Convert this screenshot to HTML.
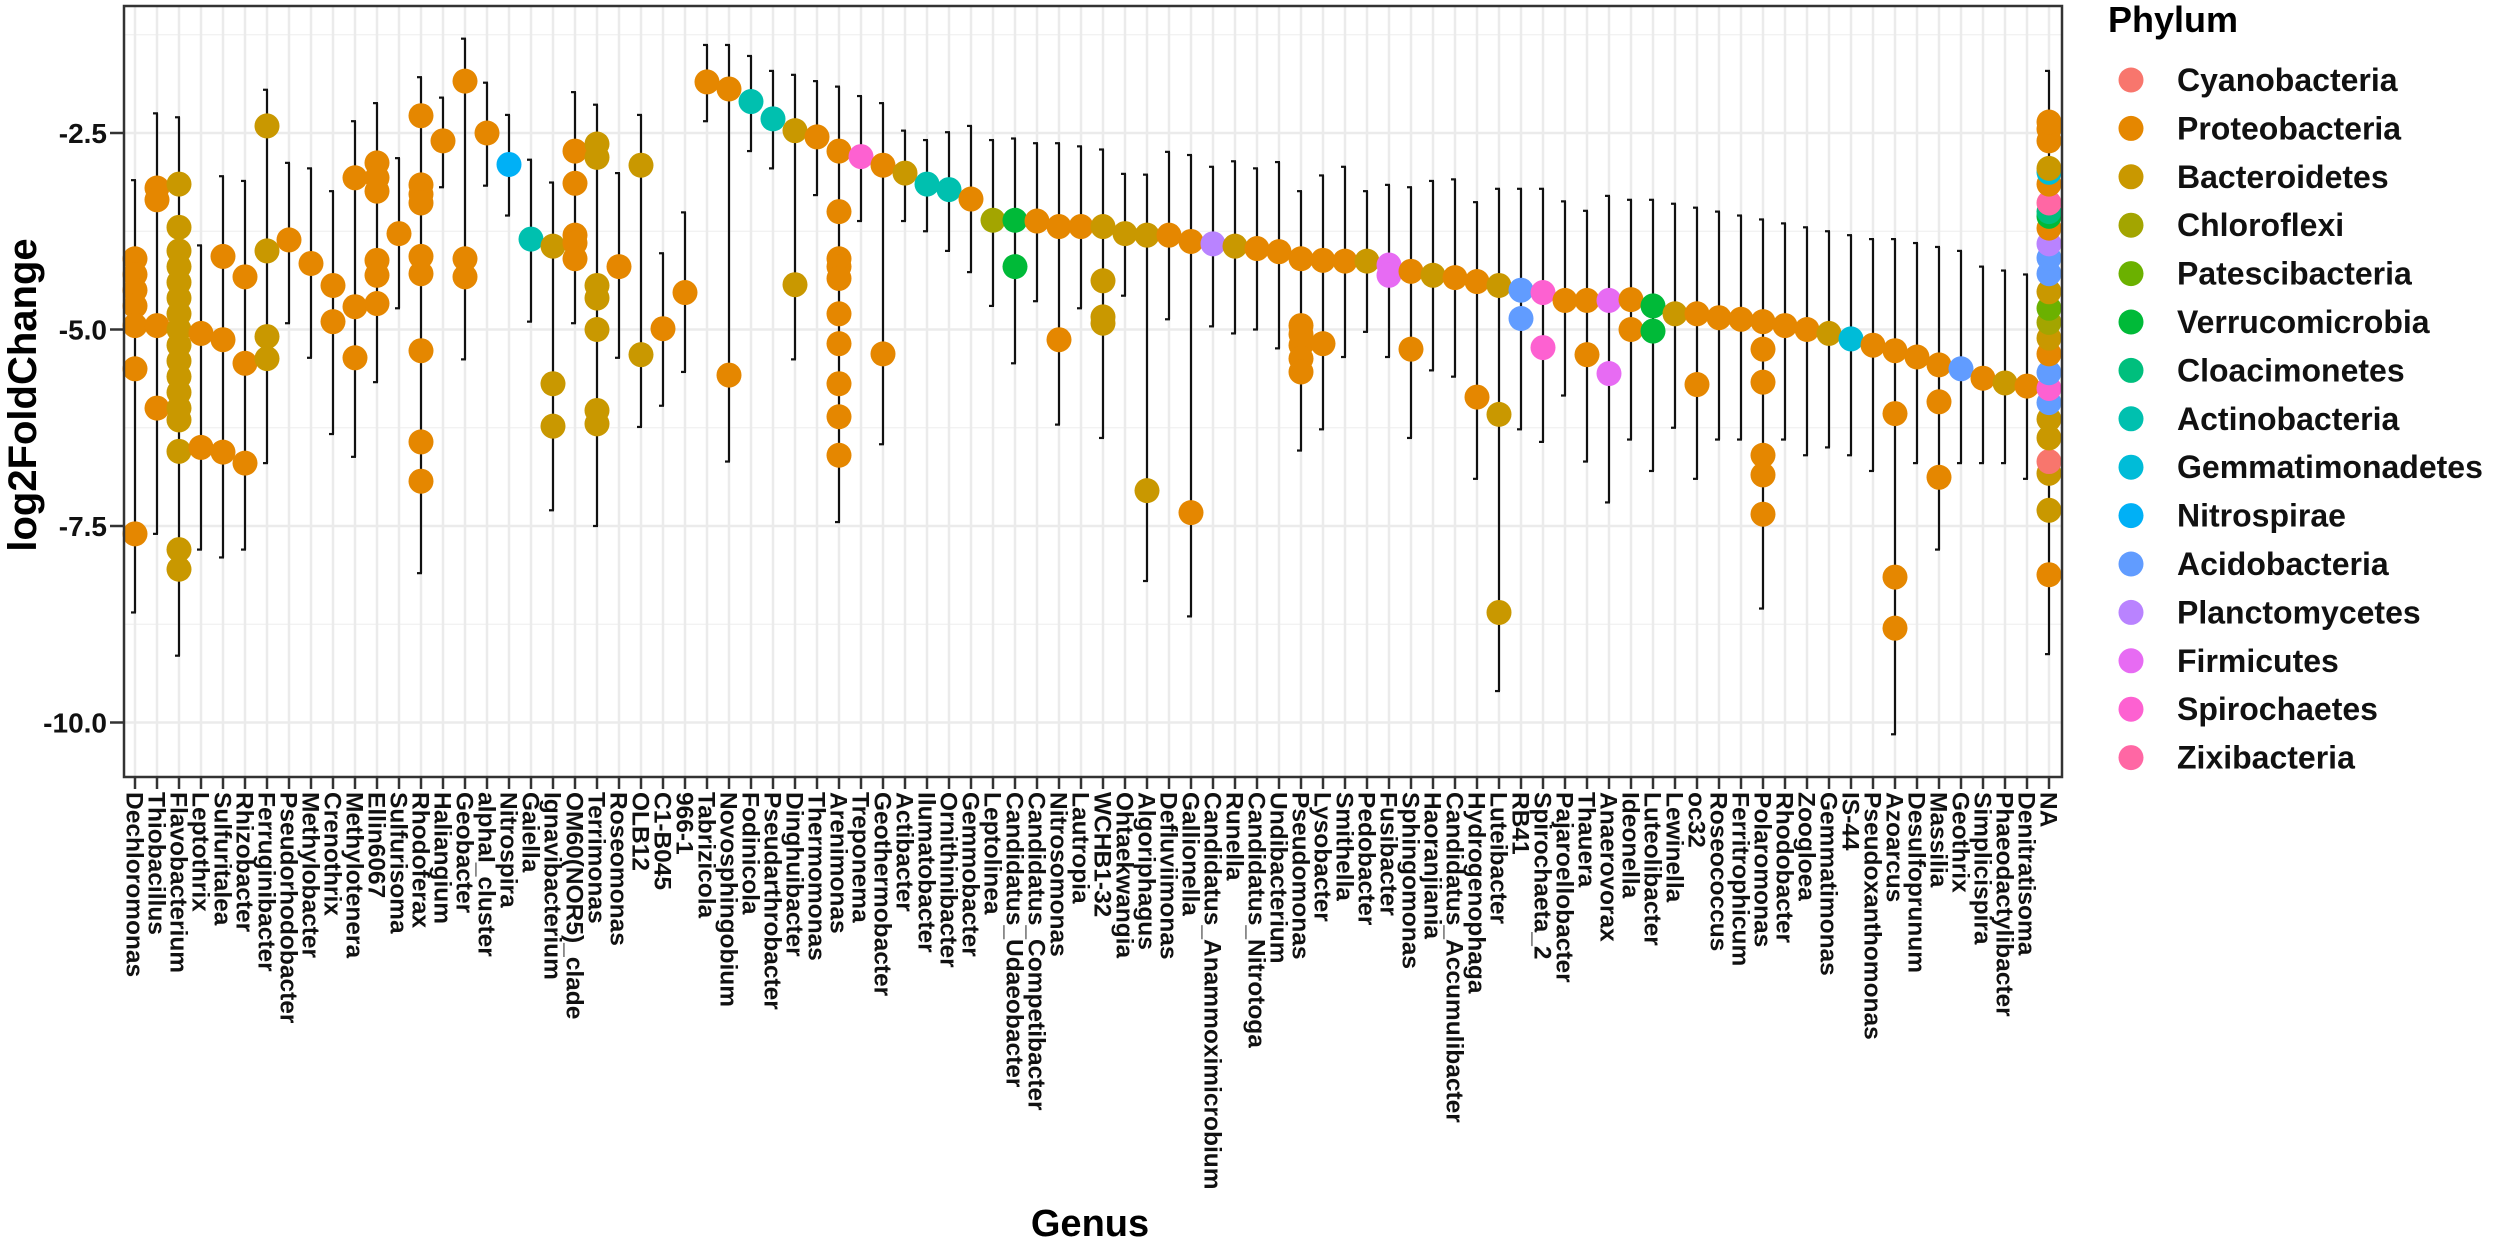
<!DOCTYPE html>
<html><head><meta charset="utf-8"><style>
html,body{margin:0;padding:0;background:#fff;}
svg{display:block;font-family:"Liberation Sans",Arial,sans-serif;}
</style></head><body>
<svg id="chart" width="2500" height="1242" viewBox="0 0 2500 1242" xmlns="http://www.w3.org/2000/svg">
<rect x="0" y="0" width="2500" height="1242" fill="#ffffff"/>
<g id="grid"></g>
<g id="errs"></g>
<g id="pts"></g>
<rect x="124" y="6" width="1938" height="771" fill="none" stroke="#333" stroke-width="2.5"/>
<g id="yaxis"></g>
<g id="xaxis"></g>
<text transform="translate(36,395) rotate(-90)" text-anchor="middle" font-size="40" font-weight="bold">log2FoldChange</text>
<text x="1090" y="1236" text-anchor="middle" font-size="38" font-weight="bold">Genus</text>
<g id="legend">
<text x="2108" y="32" font-size="36" font-weight="bold">Phylum</text>
</g>
</svg>
<script>
const phyla = ["Cyanobacteria","Proteobacteria","Bacteroidetes","Chloroflexi","Patescibacteria","Verrucomicrobia","Cloacimonetes","Actinobacteria","Gemmatimonadetes","Nitrospirae","Acidobacteria","Planctomycetes","Firmicutes","Spirochaetes","Zixibacteria"];
const phylumColors = ["#F8766D","#E58700","#C99800","#A3A500","#6BB100","#00BA38","#00BF7D","#00C0AF","#00BCD8","#00B0F6","#619CFF","#B983FF","#E76BF3","#FD61D1","#FF67A4"];
const genera = ["Dechloromonas","Thiobacillus","Flavobacterium","Leptothrix","Sulfuritalea","Rhizobacter","Ferruginibacter","Pseudorhodobacter","Methylobacter","Crenothrix","Methylotenera","Ellin6067","Sulfurisoma","Rhodoferax","Haliangium","Geobacter","alphaI_cluster","Nitrospira","Gaiella","Ignavibacterium","OM60(NOR5)_clade","Terrimonas","Roseomonas","OLB12","C1-B045","966-1","Tabrizicola","Novosphingobium","Fodinicola","Pseudarthrobacter","Dinghuibacter","Thermomonas","Arenimonas","Treponema","Geothermobacter","Actibacter","Ilumatobacter","Ornithinibacter","Gemmobacter","Leptolinea","Candidatus_Udaeobacter","Candidatus_Competibacter","Nitrosomonas","Lautropia","WCHB1-32","Ohtaekwangia","Algoriphagus","Defluviimonas","Gallionella","Candidatus_Anammoximicrobium","Runella","Candidatus_Nitrotoga","Undibacterium","Pseudomonas","Lysobacter","Smithella","Pedobacter","Fusibacter","Sphingomonas","Haoranjiania","Candidatus_Accumulibacter","Hydrogenophaga","Luteibacter","RB41","Spirochaeta_2","Pajaroellobacter","Thauera","Anaerovorax","Ideonella","Luteolibacter","Lewinella","oc32","Roseococcus","Ferritrophicum","Polaromonas","Rhodobacter","Zoogloea","Gemmatimonas","IS-44","Pseudoxanthomonas","Azoarcus","Desulfoprunum","Massilia","Geothrix","Simplicispira","Phaeodactylibacter","Denitratisoma","NA"];
const genusPhylum = [1,1,2,1,1,1,2,1,1,1,1,1,1,1,1,1,1,9,7,2,1,2,1,2,1,1,1,1,7,7,2,1,1,13,1,2,7,7,1,3,5,1,1,1,2,2,2,1,1,11,2,1,1,1,1,1,2,12,1,2,1,1,2,10,13,1,1,12,1,5,2,1,1,1,1,1,1,2,8,1,1,1,1,10,1,2,1,1];
const genusValues = [
[-4.1,-4.3,-4.5,-4.7,-4.95,-5.5,-7.6],[-3.2,-3.35,-4.95,-6.0],
[-3.15,-3.7,-4.0,-4.2,-4.4,-4.6,-4.8,-5.0,-5.2,-5.4,-5.6,-5.8,-6.0,-6.15,-6.55,-7.8,-8.05],
[-5.05,-6.5],[-4.07,-5.13,-6.56],[-4.33,-5.43,-6.7],[-2.41,-4.0,-5.09,-5.37],[-3.86],[-4.16],[-4.44,-4.9],
[-3.07,-4.71,-5.36],[-2.88,-3.07,-3.24,-4.12,-4.31,-4.67],[-3.78],[-2.28,-3.16,-3.28,-3.39,-4.07,-4.29,-5.27,-6.43,-6.93],
[-2.6],[-1.84,-4.1,-4.33],[-2.5],[-2.9],[-3.85],[-3.94,-5.69,-6.23],[-2.73,-3.14,-3.8,-3.9,-4.1],
[-2.64,-2.81,-4.44,-4.6,-5.0,-6.03,-6.2],[-4.2],[-2.91,-5.32],[-4.99],[-4.53],[-1.85],[-1.94,-5.58],[-2.1],[-2.32],
[-2.47,-4.43],[-2.55],[-2.73,-3.5,-4.1,-4.2,-4.35,-4.8,-5.18,-5.69,-6.11,-6.6],[-2.8],[-2.91,-5.31],[-3.01],[-3.15],[-3.22],[-3.34],[-3.61],
[-3.61,-4.2],[-3.62],[-3.69,-5.13],[-3.69],[-3.69,-4.38,-4.84,-4.92],[-3.78],[-3.8,-7.05],[-3.8],[-3.88,-7.33],[-3.91],
[-3.94],[-3.97],[-4.01],[-4.1,-4.95,-5.06,-5.2,-5.37,-5.54],[-4.12,-5.18],[-4.13],[-4.13],[-4.18,-4.31],[-4.26,-5.25],[-4.31],
[-4.34],[-4.39,-5.86],[-4.44,-6.08,-8.6],[-4.5,-4.86],[-4.53,-5.23],[-4.63],[-4.63,-5.32],[-4.63,-5.56],[-4.62,-5.0],[-4.7,-5.02],
[-4.8],[-4.8,-5.7],[-4.85],[-4.87],[-4.9,-5.25,-5.67,-6.6,-6.85,-7.35],[-4.95],[-5.0],[-5.05],[-5.12],[-5.2],
[-5.27,-6.07,-8.15,-8.8],[-5.35],[-5.45,-5.92,-6.88],[-5.5],[-5.62],[-5.68],[-5.72],[]];
const naValues = [-8.12,-7.3,-6.83,-6.68,-6.38,-6.14,-5.93,-5.75,-5.55,-5.31,-5.11,-4.91,-4.73,-4.52,-4.29,-4.09,-3.91,-3.71,-3.56,-3.5,-3.39,-3.15,-3.0,-2.95,-2.6,-2.45,-2.36];
const naPhyla = [1,2,2,0,2,2,10,13,10,1,2,3,4,2,10,10,11,1,5,6,14,1,8,2,1,1,1];
const errTop = [-3.1,-2.25,-2.3,-3.93,-3.05,-3.11,-1.95,-2.88,-2.95,-3.24,-2.35,-2.12,-2.82,-1.79,-2.05,-1.3,-1.86,-2.27,-2.84,-3.13,-1.98,-2.14,-3.01,-2.27,-4.03,-3.51,-1.38,-1.38,-1.52,-1.71,-1.76,-1.84,-1.91,-2.03,-2.12,-2.47,-2.59,-2.49,-2.41,-2.59,-2.57,-2.63,-2.63,-2.67,-2.71,-3.02,-3.03,-2.74,-2.78,-2.93,-2.86,-2.95,-2.87,-3.24,-3.04,-2.93,-3.24,-3.16,-3.19,-3.11,-3.09,-3.38,-3.21,-3.21,-3.21,-3.37,-3.49,-3.3,-3.35,-3.35,-3.4,-3.45,-3.5,-3.55,-3.6,-3.65,-3.7,-3.75,-3.8,-3.85,-3.85,-3.9,-3.95,-4.0,-4.2,-4.25,-4.3,-1.71];
const errBottom = [-8.6,-7.6,-9.15,-7.8,-7.9,-7.8,-6.7,-4.92,-5.36,-6.33,-6.62,-5.67,-4.73,-8.1,-3.19,-5.38,-3.17,-3.55,-4.9,-7.3,-4.92,-7.5,-5.36,-6.24,-5.97,-5.54,-2.35,-6.68,-2.73,-2.95,-5.38,-3.29,-7.45,-3.62,-6.46,-3.62,-3.75,-4.0,-4.27,-4.7,-5.43,-4.64,-6.21,-4.73,-6.38,-4.57,-8.2,-4.87,-8.65,-4.96,-5.05,-5.0,-5.24,-6.54,-6.27,-5.35,-5.03,-5.35,-6.38,-5.52,-5.6,-6.9,-9.6,-6.27,-6.43,-5.84,-6.68,-7.2,-6.4,-6.8,-6.25,-6.9,-6.4,-6.4,-8.55,-6.4,-6.6,-6.5,-6.6,-6.8,-10.15,-6.7,-7.8,-6.7,-6.7,-6.7,-6.9,-9.13];
const yTicks = [-2.5,-5.0,-7.5,-10.0];
const yTickLabels = ["-2.5","-5.0","-7.5","-10.0"];
const yMinor = [-1.25,-3.75,-6.25,-8.75];

const NS = "http://www.w3.org/2000/svg";
const PL = 124, PR = 2062, PT = 6, PB = 777;
function xPos(i){ return 135 + i * (2049 - 135) / (genera.length - 1); }
function yPos(v){ return 133 + (-2.5 - v) * 78.6; }
function mk(tag, attrs, parent){ const e = document.createElementNS(NS, tag); for (const k in attrs) e.setAttribute(k, attrs[k]); parent.appendChild(e); return e; }

const grid = document.getElementById('grid');
yMinor.forEach(v => {
  const l = mk('line', {x1:PL, x2:PR, y1:yPos(v), y2:yPos(v), stroke:'#f0f0f0', 'stroke-width':1.3}, grid);
  
  
});
yTicks.forEach(v => {
  const l = mk('line', {x1:PL, x2:PR, y1:yPos(v), y2:yPos(v), stroke:'#ebebeb', 'stroke-width':2.5}, grid);
  
  
});
genera.forEach((g, i) => {
  const l = mk('line', {x1:xPos(i), x2:xPos(i), y1:PT, y2:PB, stroke:'#ebebeb', 'stroke-width':2.5}, grid);
  
  
});

const errs = document.getElementById('errs');
genera.forEach((g, i) => {
  const x = xPos(i), y1 = yPos(errTop[i]), y2 = yPos(errBottom[i]);
  const eg = mk('g', {stroke:'#111', 'stroke-width':2.2, fill:'none'}, errs);
  
  
  mk('line', {x1:x, x2:x, y1:y1, y2:y2}, eg);
  mk('line', {x1:x-4, x2:x+1, y1:y1, y2:y1}, eg);
  mk('line', {x1:x-4, x2:x+1, y1:y2, y2:y2}, eg);
});

const pts = document.getElementById('pts');
function dot(i, v, p){
  const c = mk('circle', {cx:xPos(i), cy:yPos(v), r:12.5, fill:phylumColors[p]}, pts);
  
  
}
genusValues.forEach((vals, i) => { vals.forEach(v => dot(i, v, genusPhylum[i])); });
naValues.forEach((v, k) => dot(genera.length - 1, v, naPhyla[k]));

const ya = document.getElementById('yaxis');
yTicks.forEach((v, k) => {
  const t = mk('line', {x1:PL-14, x2:PL, y1:yPos(v), y2:yPos(v), stroke:'#333', 'stroke-width':2.5}, ya);
  
  
  const tx = mk('text', {x:107, y:yPos(v)+10, 'text-anchor':'end', 'font-size':28, 'font-weight':'bold', fill:'#111'}, ya);
  tx.textContent = yTickLabels[k];
  
  
});

const xa = document.getElementById('xaxis');
genera.forEach((g, i) => {
  const x = xPos(i);
  const t = mk('line', {x1:x, x2:x, y1:PB, y2:PB+12, stroke:'#333', 'stroke-width':2.5}, xa);
  
  
  const tx = mk('text', {transform:'translate(' + (x - 8.5) + ',792) rotate(90)', 'font-size':24.5, 'font-weight':'bold', fill:'#111'}, xa);
  tx.textContent = g;
  
  
});

const lg = document.getElementById('legend');
phyla.forEach((p, k) => {
  const y = 80 + k * 48.4;
  const e = mk('g', {}, lg);
  
  
  mk('circle', {cx:2131, cy:y, r:12.5, fill:phylumColors[k]}, e);
  const tx = mk('text', {x:2177, y:y+11, 'font-size':32, 'font-weight':'bold', fill:'#111'}, e);
  tx.textContent = p;
});
</script>
</body></html>
